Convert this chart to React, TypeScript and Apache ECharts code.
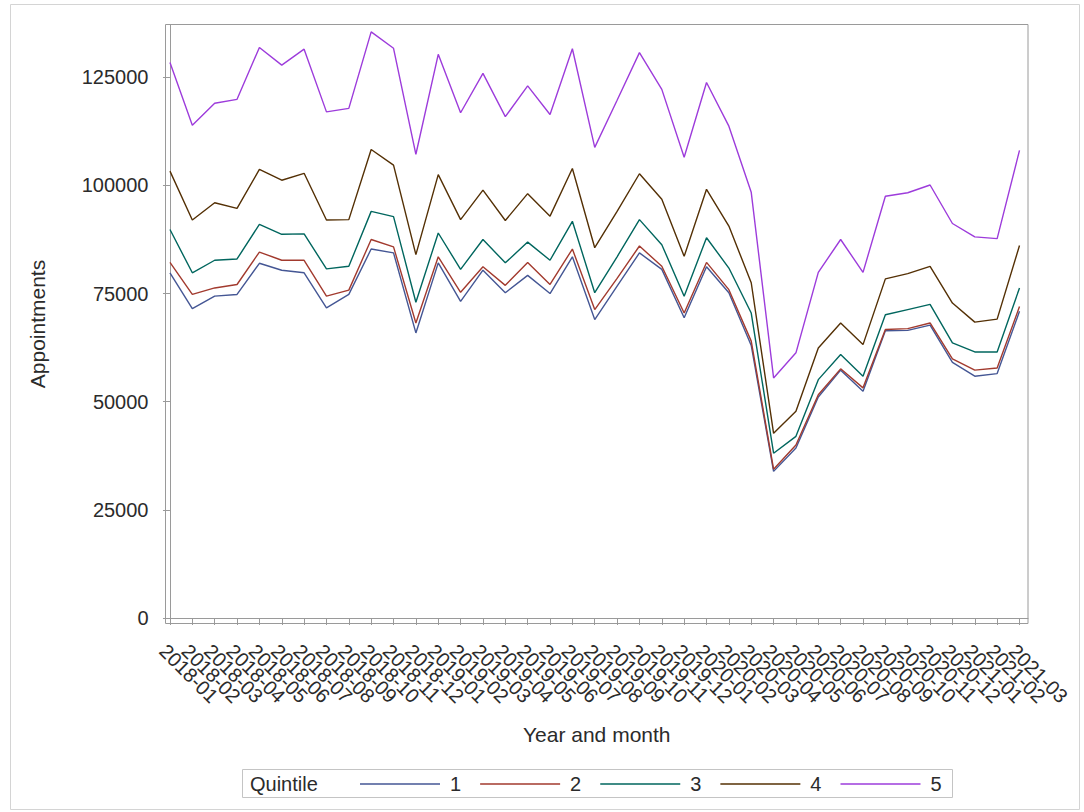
import React, { useEffect, useRef } from "react";
import * as echarts from "echarts";

const months = [
  "2018-01", "2018-02", "2018-03", "2018-04", "2018-05", "2018-06", "2018-07", "2018-08", "2018-09", "2018-10", "2018-11", "2018-12",
  "2019-01", "2019-02", "2019-03", "2019-04", "2019-05", "2019-06", "2019-07", "2019-08", "2019-09", "2019-10", "2019-11", "2019-12",
  "2020-01", "2020-02", "2020-03", "2020-04", "2020-05", "2020-06", "2020-07", "2020-08", "2020-09", "2020-10", "2020-11", "2020-12",
  "2021-01", "2021-02", "2021-03",
];

const quintiles = ["1", "2", "3", "4", "5"];

const q1 = [79800, 71500, 74400, 74800, 82000, 80400, 79800, 71700, 74800, 85300, 84400, 65900, 82100, 73200, 80400, 75200, 79200, 75000, 83500, 69000, 76700, 84400, 80600, 69400, 81200, 75200, 63000, 33900, 39300, 51100, 57300, 52400, 66400, 66500, 67700, 59100, 55900, 56500, 70900];
const q2 = [82200, 74800, 76300, 77100, 84600, 82700, 82700, 74400, 75800, 87500, 85800, 68200, 83500, 75300, 81200, 76900, 82200, 77100, 85300, 71300, 78500, 86000, 81300, 70500, 82200, 75900, 64000, 34400, 40000, 51600, 57600, 53200, 66700, 66900, 68200, 59900, 57300, 57800, 72000];
const q3 = [89800, 79800, 82700, 83000, 91000, 88700, 88800, 80700, 81300, 94000, 92800, 73000, 89000, 80600, 87500, 82100, 86900, 82700, 91700, 75200, 83500, 92100, 86300, 74400, 87900, 80900, 70500, 38100, 42000, 55100, 60900, 55900, 70100, 71300, 72500, 63600, 61500, 61500, 76300];
const q4 = [103300, 92000, 96000, 94700, 103700, 101200, 102800, 92000, 92100, 108300, 104700, 84000, 102500, 92100, 98900, 91900, 98100, 92900, 103900, 85600, 94000, 102700, 96800, 83600, 99100, 90600, 77500, 42700, 47800, 62400, 68200, 63200, 78400, 79600, 81300, 72800, 68400, 69100, 86100];
const q5 = [128400, 113900, 119000, 119900, 131900, 127800, 131500, 117000, 117800, 135500, 131700, 107200, 130300, 116800, 125900, 115900, 123000, 116400, 131600, 108800, 119700, 130700, 122200, 106500, 123800, 113700, 98400, 55500, 61300, 79900, 87500, 79900, 97500, 98300, 100100, 91200, 88100, 87700, 108100];

const yTicks = [0, 25000, 50000, 75000, 100000, 125000];

const seriesValues = [q1, q2, q3, q4, q5];
const colors = ["#445694", "#A23A2E", "#01665E", "#543005", "#9D3CDB"];

const FONT = "'Liberation Sans', Arial, sans-serif";
const TEXT = "#2b2b2b";
const AXIS = "#9a9a9a";

const X_MIN = -0.2;
const X_MAX = 38.38;

export default function App() {
  const ref = useRef<HTMLDivElement>(null);

  useEffect(() => {
    const chart = echarts.init(ref.current!, null, { renderer: "svg" });
    const idx = months.map((_, i) => i);
    // sentinel values at the axis ends absorb ECharts' min/max label overlap hiding
    const xValues = [X_MIN, ...idx, X_MAX];
    chart.setOption({
      animation: false,
      backgroundColor: "#ffffff",
      textStyle: { fontFamily: FONT },
      grid: {
        left: 165.5,
        right: 56,
        top: 24.5,
        bottom: 188.5,
        show: true,
        borderColor: AXIS,
        borderWidth: 1,
        containLabel: false,
      },
      xAxis: {
        type: "value",
        min: X_MIN,
        max: X_MAX,
        name: "Year and month",
        nameLocation: "middle",
        nameGap: 100,
        nameTextStyle: { fontSize: 21, color: TEXT, fontFamily: FONT },
        axisLine: { show: true, lineStyle: { color: AXIS } },
        axisTick: { show: true, length: 7, customValues: xValues, lineStyle: { color: AXIS } },
        axisLabel: {
          customValues: xValues,
          rotate: -45,
          margin: 17,
          fontSize: 20,
          color: TEXT,
          fontFamily: FONT,
          showMinLabel: false,
          showMaxLabel: false,
          hideOverlap: false,
          verticalAlign: "top",
          formatter: (v: number) => (Number.isInteger(v) ? months[v] : ""),
        },
        splitLine: { show: false },
      },
      yAxis: {
        type: "value",
        min: -1270,
        max: 137200,
        name: "Appointments",
        nameLocation: "middle",
        nameGap: 118,
        nameRotate: 90,
        nameTextStyle: { fontSize: 21, color: TEXT, fontFamily: FONT },
        axisLine: { show: true, lineStyle: { color: AXIS } },
        axisTick: { show: true, length: 7, customValues: yTicks, lineStyle: { color: AXIS } },
        axisLabel: {
          customValues: yTicks,
          margin: 17,
          fontSize: 20,
          color: TEXT,
          fontFamily: FONT,
          formatter: (v: number) => String(v),
        },
        splitLine: { show: false },
      },
      legend: {
        data: quintiles,
        left: 360,
        top: 774,
        padding: 0,
        icon: "rect",
        itemWidth: 80,
        itemHeight: 1.5,
        itemGap: 19,
        textStyle: { fontSize: 20, color: TEXT, fontFamily: FONT, padding: [0, 0, 0, 5] },
      },
      graphic: [
        {
          type: "rect",
          shape: { x: 10.5, y: 4.5, width: 1069, height: 805 },
          style: { fill: "none", stroke: "#d4d4d4", lineWidth: 1 },
          silent: true,
          z: -1,
        },
        {
          type: "rect",
          shape: { x: 242.5, y: 769.5, width: 710, height: 28 },
          style: { fill: "none", stroke: "#c4c4c4", lineWidth: 1 },
          silent: true,
        },
        {
          type: "text",
          x: 250,
          y: 783.5,
          style: {
            text: "Quintile",
            fontSize: 20,
            fontFamily: FONT,
            fill: TEXT,
            verticalAlign: "middle",
            align: "left",
          },
          silent: true,
        },
      ],
      series: quintiles.map((name, k) => ({
        name,
        type: "line",
        symbol: "none",
        data: seriesValues[k].map((v, i) => [i, v]),
        lineStyle: { width: 1.4, color: colors[k] },
        itemStyle: { color: colors[k] },
      })),
    });
    return () => chart.dispose();
  }, []);

  return (
    <div
      ref={ref}
      style={{ position: "absolute", left: 0, top: 0, width: 1084, height: 812 }}
    />
  );
}
